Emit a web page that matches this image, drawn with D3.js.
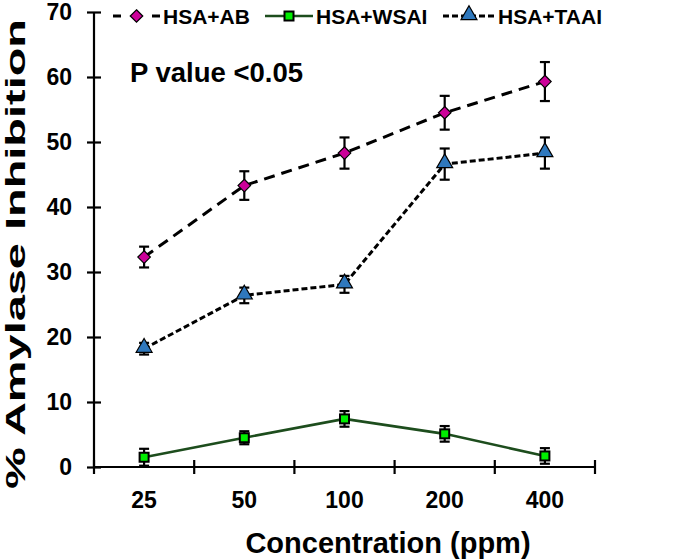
<!DOCTYPE html>
<html>
<head>
<meta charset="utf-8">
<script src="https://cdn.jsdelivr.net/npm/d3@7"></script>
<style>
  html, body { margin: 0; padding: 0; background: #fff; }
  svg { display: block; font-family: "Liberation Sans", Arial, sans-serif; font-weight: bold; }
</style>
</head>
<body>
<svg id="chart" width="685" height="560"></svg>
<script>
// ---- data ----
const categories = ["25", "50", "100", "200", "400"];
const abValues   = [32.3, 43.3, 48.3, 54.5, 59.3];
const abErrors   = [1.6, 2.2, 2.4, 2.6, 3.0];
const wsaiValues = [1.5, 4.5, 7.4, 5.1, 1.7];
const wsaiErrors = [1.3, 1.0, 1.2, 1.2, 1.2];
const taaiValues = [18.2, 26.4, 28.1, 46.6, 48.3];
const taaiErrors = [0.9, 1.2, 1.3, 2.4, 2.4];
const yTicks = [0, 10, 20, 30, 40, 50, 60, 70];
const seriesNames = ["HSA+AB", "HSA+WSAI", "HSA+TAAI"];

const svg = d3.select("#chart");
const mLeft = 94, mRight = 595, mTop = 12, mBottom = 467;

const x = d3.scaleBand().domain(categories).range([mLeft, mRight]).padding(0);
const y = d3.scaleLinear().domain([0, 70]).range([mBottom, mTop]);
const cx = c => x(c) + x.bandwidth() / 2;

// ---- axes ----
const yAxis = svg.append("g").attr("transform", `translate(${mLeft},0)`)
  .call(d3.axisLeft(y).tickValues(yTicks).tickSize(7).tickPadding(15).tickFormat(d3.format("d")));
yAxis.select(".domain").attr("d", `M0,${y(70)}V${y(0)}`).attr("stroke", "#000").attr("stroke-width", 2.2);
yAxis.selectAll(".tick line").attr("x1", -7).attr("x2", 7).attr("stroke", "#000").attr("stroke-width", 2.2);
yAxis.selectAll(".tick text").attr("font-size", 23).attr("font-weight", "bold").attr("fill", "#000")
  .attr("font-family", "Liberation Sans, Arial, sans-serif");

// x axis: line + boundary ticks + centered labels
const xg = svg.append("g");
xg.append("line").attr("x1", mLeft).attr("x2", mRight).attr("y1", mBottom).attr("y2", mBottom)
  .attr("stroke", "#000").attr("stroke-width", 2.2);
const bounds = categories.map(c => x(c)).concat([mRight]);
xg.selectAll("line.tk").data(bounds).enter().append("line").attr("class", "tk")
  .attr("x1", d => d).attr("x2", d => d).attr("y1", mBottom - 7).attr("y2", mBottom + 7)
  .attr("stroke", "#000").attr("stroke-width", 2.2);
xg.selectAll("text").data(categories).enter().append("text")
  .attr("x", d => cx(d)).attr("y", 508).attr("text-anchor", "middle")
  .attr("font-size", 23).text(d => d);

// axis titles
svg.append("text").attr("x", 388).attr("y", 553).attr("text-anchor", "middle")
  .attr("font-size", 29).text("Concentration (ppm)");
svg.append("text").attr("transform", "translate(25,254) rotate(-90)").attr("text-anchor", "middle")
  .attr("font-size", 28).attr("textLength", 470).attr("lengthAdjust", "spacingAndGlyphs")
  .text("% Amylase Inhibition");

svg.append("text").attr("x", 130).attr("y", 82).attr("font-size", 27.5).text("P value <0.05");

// ---- marker helpers ----
const diamond = d3.symbol().type(d3.symbolDiamond2).size(100);
const triangle = d3.symbol().type(d3.symbolTriangle).size(110);
function drawMarker(g, type, px, py) {
  if (type === "ab") {
    g.append("path").attr("d", diamond()).attr("transform", `translate(${px},${py})`)
      .attr("fill", "#cc0099").attr("stroke", "#000").attr("stroke-width", 1.2);
  } else if (type === "taai") {
    g.append("path").attr("d", triangle()).attr("transform", `translate(${px},${py - 1})`)
      .attr("fill", "#2f78bd").attr("stroke", "#000").attr("stroke-width", 1.2);
  } else {
    g.append("rect").attr("x", px - 4.5).attr("y", py - 4.5).attr("width", 9).attr("height", 9)
      .attr("fill", "#00ee00").attr("stroke", "#000").attr("stroke-width", 2);
  }
}

function drawSeries(vals, errs, type, lineStyle) {
  const g = svg.append("g");
  const line = d3.line().x((d, i) => cx(categories[i])).y(d => y(d));
  g.append("path").datum(vals).attr("d", line).attr("fill", "none")
    .attr("stroke", lineStyle.color).attr("stroke-width", lineStyle.width)
    .attr("stroke-dasharray", lineStyle.dash);
  vals.forEach((v, i) => {
    const px = cx(categories[i]);
    const y1 = y(v + errs[i]), y2 = y(v - errs[i]);
    g.append("line").attr("x1", px).attr("x2", px).attr("y1", y1).attr("y2", y2)
      .attr("stroke", "#000").attr("stroke-width", 2.2);
    [y1, y2].forEach(yy => g.append("line").attr("x1", px - 5).attr("x2", px + 5)
      .attr("y1", yy).attr("y2", yy).attr("stroke", "#000").attr("stroke-width", 2.2));
    drawMarker(g, type, px, y(v));
  });
}

const styles = {
  ab:   { color: "#000", width: 3, dash: "11,7" },
  wsai: { color: "#1d4d1d", width: 2.6, dash: null },
  taai: { color: "#000", width: 3, dash: "6,3" }
};
drawSeries(wsaiValues, wsaiErrors, "wsai", styles.wsai);
drawSeries(taaiValues, taaiErrors, "taai", styles.taai);
drawSeries(abValues, abErrors, "ab", styles.ab);

// ---- legend ----
const legend = svg.append("g");
const ly = 16;
const legendItems = [
  { name: seriesNames[0], type: "ab", x0: 113, x1: 160, tx: 163 },
  { name: seriesNames[1], type: "wsai", x0: 265, x1: 313, tx: 316 },
  { name: seriesNames[2], type: "taai", x0: 443, x1: 495, tx: 498 }
];
legendItems.forEach(it => {
  const st = styles[it.type];
  if (it.type === "ab") {
    legend.append("line").attr("x1", it.x0).attr("x2", it.x0 + 8).attr("y1", ly).attr("y2", ly)
      .attr("stroke", "#000").attr("stroke-width", 3);
    legend.append("line").attr("x1", it.x1 - 8).attr("x2", it.x1).attr("y1", ly).attr("y2", ly)
      .attr("stroke", "#000").attr("stroke-width", 3);
  } else {
    legend.append("line").attr("x1", it.x0).attr("x2", it.x1).attr("y1", ly).attr("y2", ly)
      .attr("stroke", st.color).attr("stroke-width", st.width).attr("stroke-dasharray", st.dash);
  }
  drawMarker(legend, it.type, (it.x0 + it.x1) / 2, ly);
  legend.append("text").attr("x", it.tx).attr("y", ly + 8).attr("font-size", 21).text(it.name);
});
</script>
</body>
</html>
